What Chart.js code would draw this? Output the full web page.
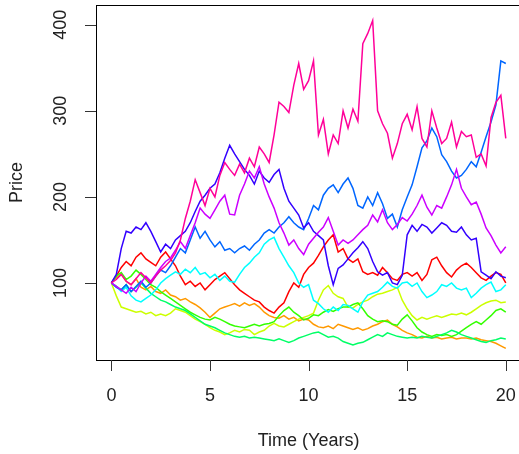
<!DOCTYPE html>
<html>
<head>
<meta charset="utf-8">
<script src="https://cdn.jsdelivr.net/npm/chart.js@4/dist/chart.umd.min.js"></script>
<style>
  html, body { margin: 0; padding: 0; background: #fff; }
  #wrap { width: 519px; height: 454px; }
</style>
</head>
<body>
<div id="wrap"><canvas id="chart" width="519" height="454"></canvas></div>
<script>
const times = [
  0, 0.25, 0.5, 0.75, 1, 1.25, 1.5, 1.75, 2, 2.25, 2.5, 2.75, 3, 3.25, 3.5, 3.75,
  4, 4.25, 4.5, 4.75, 5, 5.25, 5.5, 5.75, 6, 6.25, 6.5, 6.75, 7, 7.25, 7.5, 7.75,
  8, 8.25, 8.5, 8.75, 9, 9.25, 9.5, 9.75, 10, 10.25, 10.5, 10.75, 11, 11.25, 11.5, 11.75,
  12, 12.25, 12.5, 12.75, 13, 13.25, 13.5, 13.75, 14, 14.25, 14.5, 14.75, 15, 15.25, 15.5, 15.75,
  16, 16.25, 16.5, 16.75, 17, 17.25, 17.5, 17.75, 18, 18.25, 18.5, 18.75, 19, 19.25, 19.5, 19.75, 20
];

const red = [
  100, 108, 118, 125, 120, 130, 135, 128, 124, 120, 130, 136, 128, 120, 108, 98,
  102, 96, 100, 92, 98, 104, 108, 112, 105, 98, 92, 88, 84, 80, 78, 72,
  68, 65, 72, 77, 90, 100, 95, 110, 118, 123, 132, 142, 150, 156, 136, 140,
  128, 124, 128, 113, 110, 112, 109, 118, 112, 105, 103, 110, 112, 108, 112, 103,
  110, 127, 130, 120, 112, 107, 115, 120, 123, 118, 112, 106, 103, 108, 112, 110, 100
];
const orange = [
  100, 106, 110, 102, 98, 105, 95, 92, 96, 90, 88, 92, 86, 84, 80, 82,
  78, 75, 71, 66, 60, 65, 70, 72, 74, 76, 73, 77, 74, 76, 72, 66,
  62, 60, 59, 62, 58, 60, 56, 58, 57, 52, 49, 48, 50, 47, 52, 50,
  48, 46, 48, 45, 47, 50, 52, 55, 57, 52, 49, 45, 42, 40, 37, 36,
  38, 36, 37, 35, 36, 37, 35, 36, 36, 35, 36, 34, 33, 32, 30, 27, 24
];
const yellow = [
  100, 85, 72, 70, 68, 66, 67, 64, 66, 62, 64, 62, 65, 70, 68, 66,
  62, 58, 55, 52, 48, 45, 43, 40, 42, 45, 43, 46, 45, 40, 43, 45,
  50, 53, 50, 49, 52, 55, 58, 60, 62, 65, 80, 92, 97, 88, 84, 82,
  72, 71, 75, 78, 80, 84, 87, 88, 90, 92, 95, 80, 70, 62, 57, 60,
  58, 60, 62, 60, 62, 64, 63, 65, 63, 66, 70, 74, 77, 79, 80, 77, 78
];
const green = [
  100, 108, 112, 104, 108, 115, 110, 104, 98, 95, 90, 86, 82, 78, 74, 70,
  66, 63, 60, 58, 57, 60, 58, 55, 52, 50, 49, 48, 50, 52, 50, 52,
  53, 55, 62, 68, 72, 66, 62, 57, 59, 63, 62, 66, 69, 67, 70, 72,
  72, 75, 77, 70, 62, 58, 55, 56, 55, 52, 51, 58, 63, 56, 48, 43,
  40, 38, 40, 39, 40, 38, 40, 44, 48, 52, 55, 52, 57, 62, 68, 70, 66
];
const seaGreen = [
  100, 96, 92, 98, 90, 95, 100, 94, 88, 84, 80, 78, 75, 72, 70, 68,
  64, 60, 56, 52, 50, 48, 45, 42, 40, 38, 37, 38, 36, 37, 36, 35,
  34, 33, 35, 33, 31, 33, 36, 38, 40, 42, 43, 40, 37, 38, 36, 32,
  30, 28, 30, 31, 34, 37, 40, 38, 42, 40, 38, 37, 36, 37, 36, 38,
  37, 36, 38, 40, 42, 45, 43, 40, 38, 36, 34, 32, 31, 33, 34, 36, 35
];
const cyan = [
  100, 96, 90, 95, 85, 80, 78, 82, 86, 92, 100, 105, 109, 113, 110, 116,
  112, 118, 110, 112, 106, 110, 103, 108, 102, 101, 110, 118, 123, 130, 135, 145,
  150, 153, 140, 130, 120, 112, 100, 95, 98, 80, 76, 70, 66, 72, 68, 75,
  74, 70, 66, 78, 86, 88, 90, 95, 101, 96, 94, 100, 101, 96, 100, 90,
  83, 86, 90, 98, 96, 100, 94, 92, 94, 83, 88, 94, 98, 101, 90, 92, 98
];
const blue = [
  100, 95, 92, 98, 90, 96, 102, 95, 100, 108, 115, 112, 120, 130, 140, 135,
  150, 165, 152, 160, 150, 142, 148, 138, 140, 135, 140, 143, 138, 145, 150, 158,
  162, 158, 165, 170, 177, 170, 165, 162, 175, 190, 185, 202, 210, 214, 205, 215,
  222, 210, 190, 187, 200, 190, 205, 192, 175, 180, 165, 185, 200, 214, 235, 257,
  265, 280, 270, 249, 241, 230, 222, 225, 232, 241, 235, 252, 270, 287, 307, 358, 355
];
const violet = [
  100, 110, 140, 160, 158, 165, 162, 170, 160, 148, 136, 145, 140, 150, 155, 160,
  170, 183, 195, 202, 210, 215, 228, 245, 260, 250, 241, 232, 225, 215, 230, 222,
  217, 226, 232, 210, 195, 187, 179, 164, 170, 160, 155, 150, 120, 98, 117, 121,
  128, 135, 141, 148, 140, 125, 113, 109, 112, 100, 98, 109, 156, 167, 160, 168,
  165, 158, 164, 170, 167, 160, 159, 165, 156, 150, 152, 113, 109, 105, 113, 108, 106
];
const purple = [
  100, 96, 92, 88, 95, 90, 100, 108, 102, 110, 118, 125, 129, 138, 148, 140,
  155, 170, 187, 180, 175, 185, 195, 202, 180, 179, 202, 215, 230, 222, 235, 215,
  200, 187, 170, 158, 144, 150, 140, 133, 145, 152, 159, 165, 176, 160, 144, 150,
  146, 150, 156, 162, 167, 179, 171, 185, 170, 162, 168, 176, 172, 180, 190, 202,
  188, 179, 190, 187, 200, 214, 232, 210, 200, 191, 194, 180, 164, 155, 144, 135, 142
];
const magenta = [
  100, 104, 110, 102, 98, 105, 112, 106, 100, 108, 115, 120, 126, 135, 150, 175,
  195, 220, 205, 190, 210, 200, 225, 240, 232, 225, 238, 228, 245, 235, 258, 250,
  240, 272, 310, 305, 298, 330, 355, 325, 335, 358, 272, 290, 250, 272, 262, 300,
  280, 302, 288, 378, 390, 405, 300, 285, 274, 245, 262, 285, 296, 278, 305, 268,
  258, 300, 280, 262, 268, 287, 258, 276, 270, 272, 246, 250, 236, 292, 310, 318, 268
];

const series = [red, orange, yellow, green, seaGreen, cyan, blue, violet, purple, magenta];
const colors = ['#FF0000', '#FF9900', '#CCFF00', '#33FF00', '#00FF66',
                '#00FFFF', '#0066FF', '#3300FF', '#CC00FF', '#FF0099'];
const xTicks = [0, 5, 10, 15, 20];
const yTicks = [100, 200, 300, 400];

const FONT = '18px "Liberation Sans", Arial, Helvetica, sans-serif';

// R-style box, ticks, labels (the plot box runs off the right edge, as in the original)
const rAxes = {
  id: 'rAxes',
  afterDraw(chart) {
    const { ctx, chartArea: a, scales } = chart;
    const xs = scales.x, ys = scales.y;
    ctx.save();
    ctx.strokeStyle = '#000';
    ctx.lineWidth = 1;
    ctx.strokeRect(a.left + 0.5, a.top + 0.5, a.right - a.left + 4, a.bottom - a.top);

    ctx.strokeStyle = '#333';
    ctx.beginPath();
    xTicks.forEach(v => {
      const px = Math.round(xs.getPixelForValue(v)) + 0.5;
      ctx.moveTo(px, a.bottom);
      ctx.lineTo(px, a.bottom + 11);
    });
    yTicks.forEach(v => {
      const py = Math.round(ys.getPixelForValue(v)) + 0.5;
      ctx.moveTo(a.left, py);
      ctx.lineTo(a.left - 11, py);
    });
    ctx.stroke();

    ctx.fillStyle = '#222';
    ctx.font = FONT;
    ctx.textAlign = 'center';
    ctx.textBaseline = 'middle';
    xTicks.forEach(v => ctx.fillText(String(v), xs.getPixelForValue(v), a.bottom + 36));
    ctx.fillText('Time (Years)', xs.getPixelForValue(10), a.bottom + 81);

    yTicks.forEach(v => {
      ctx.save();
      ctx.translate(a.left - 35, ys.getPixelForValue(v));
      ctx.rotate(-Math.PI / 2);
      ctx.fillText(String(v), 0, 0);
      ctx.restore();
    });
    ctx.save();
    ctx.translate(a.left - 79, (a.top + a.bottom) / 2);
    ctx.rotate(-Math.PI / 2);
    ctx.fillText('Price', 0, 0);
    ctx.restore();
    ctx.restore();
  }
};

new Chart(document.getElementById('chart'), {
  type: 'line',
  data: {
    datasets: series.map((vals, i) => ({
      data: vals.map((v, j) => ({ x: times[j], y: v })),
      borderColor: colors[i],
      borderWidth: 1.5,
      pointRadius: 0,
      tension: 0,
      fill: false,
      order: series.length - i
    }))
  },
  options: {
    responsive: false,
    animation: false,
    layout: { padding: { left: 96, right: 0, top: 5, bottom: 94 } },
    plugins: { legend: { display: false }, tooltip: { enabled: false } },
    scales: {
      x: { type: 'linear', min: -0.78, max: 20.67, display: false },
      y: { type: 'linear', min: 10.5, max: 423, display: false }
    }
  },
  plugins: [rAxes]
});
</script>
</body>
</html>
